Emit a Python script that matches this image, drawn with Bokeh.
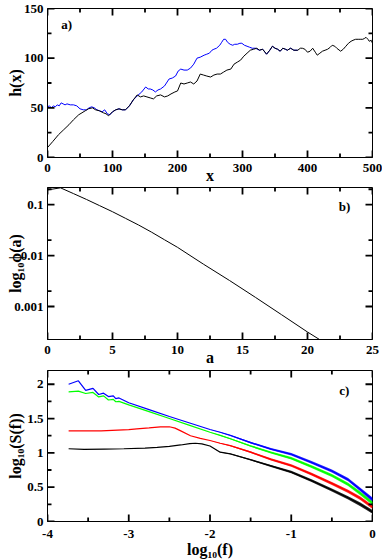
import math
from bokeh.plotting import figure
from bokeh.layouts import column
from bokeh.models import FixedTicker, Label, Range1d
from bokeh.embed import file_html
from bokeh.resources import INLINE

FONT = "'Liberation Serif', 'Times New Roman', serif"

# ---------------- panel a) : h(x) ----------------
a_black_x = [0, 8, 17, 25, 33, 40, 48, 58, 63, 69, 74, 80, 86, 90, 94, 100, 105, 110, 115, 120,
             126, 132, 138, 143, 148, 153, 158, 163, 168, 174, 180, 185, 190, 196, 200, 205, 210,
             215, 220, 225, 230, 235, 240, 245, 251, 256, 261, 266, 271, 276, 282, 287, 292, 297,
             302, 307, 312, 317, 322, 326, 331, 337, 342, 346, 350, 354, 358, 362, 366, 369, 374,
             379, 385, 389, 392, 396, 400, 404, 408, 412, 415, 419, 423, 427, 431, 435, 438, 442,
             445, 451, 455, 459, 463, 467, 470, 474, 478, 482, 485, 488, 490, 493, 495, 498, 500]
a_black_h = [10, 16, 23, 28, 33, 38, 43, 47, 49, 50, 48, 47, 45, 44, 42, 46, 48, 49, 48, 48,
             52, 58, 63, 61, 62, 61, 60, 59, 62, 63, 61, 62, 64, 66, 67, 75, 74,
             75, 76, 74, 77, 84, 83, 82, 81, 83, 84, 84, 86, 88, 89, 94, 96, 98,
             102, 105, 108, 109, 110, 108, 109, 104, 108, 112, 110, 109, 107, 110, 109, 108, 110,
             108, 108, 110, 110, 109, 106, 107, 110, 106, 103, 105, 107, 108, 109, 111, 113, 112,
             110, 107, 109, 112, 115, 117, 118, 119, 119, 119, 119, 120, 121, 119, 117, 118, 115]
a_blue_x = [0, 3, 6, 9, 12, 15, 18, 21, 24, 27, 30, 35, 40, 45, 50, 55, 60, 64, 68, 72, 76, 80,
            84, 88, 92, 96, 100, 105, 110, 115, 120, 126, 132, 138, 145, 151, 155, 158, 162, 166,
            170, 174, 180, 187, 192, 197, 201, 205, 210, 215, 220, 225, 230, 235, 241, 245, 249,
            253, 256, 260, 265, 268, 271, 274, 277, 281, 285, 288, 292, 296, 299, 303, 307, 311,
            315, 320, 326, 331, 337, 342, 346, 350, 354, 358, 362, 366, 369, 374, 379, 385]
a_blue_h = [51, 52, 50, 52, 51, 53, 52, 55, 54, 53, 54, 53, 53, 52, 49, 48, 48, 50, 51, 50, 48, 47,
            46, 48, 44, 43, 46, 48, 49, 48, 48, 52, 58, 62, 66, 71, 69, 69, 68, 66,
            68, 69, 72, 79, 80, 82, 87, 89, 88, 88, 90, 94, 100, 101, 103, 104, 105,
            108, 109, 110, 113, 116, 119, 119, 116, 114, 113, 114, 114, 115, 115, 113, 112, 111,
            110, 110, 108, 109, 104, 108, 112, 110, 109, 107, 110, 109, 108, 110, 108, 108]
a_xticks = [0, 100, 200, 300, 400, 500]
a_xtick_labels = ["0", "100", "200", "300", "400", "500"]
a_xminor = [50, 150, 250, 350, 450]
a_yticks = [0, 50, 100, 150]
a_ytick_labels = ["0", "50", "100", "150"]
a_yminor = [25, 75, 125]

# ---------------- panel b) : phi(a) ----------------
b_a = [0, 1, 2, 3, 4, 5, 6, 7, 8, 9, 10, 12, 14, 16, 18, 20, 21]
b_phi = [0.194, 0.213, 0.164, 0.126, 0.0955, 0.0724, 0.0537, 0.0398, 0.0288, 0.0204, 0.0145,
         0.00676, 0.00324, 0.00151, 0.000692, 0.000316, 0.000219]
b_xticks = [0, 5, 10, 15, 20, 25]
b_xtick_labels = ["0", "5", "10", "15", "20", "25"]
b_xminor = [2.5, 7.5, 12.5, 17.5, 22.5]
b_yticks = [0.001, 0.01, 0.1]
b_ytick_labels = ["0.001", "0.01", "0.1"]
b_yminor = [0.002, 0.02, 0.2]

# ---------------- panel c) : log10 S(f) ----------------
c_grid = [-2.0, -1.875, -1.75, -1.5, -1.25, -1.0, -0.75, -0.5, -0.3, -0.15, 0.0]
c_noise_hw = [0.0, 0.004, 0.007, 0.012, 0.015, 0.018, 0.02, 0.022, 0.024, 0.026, 0.028]

c_blue_lf = [-3.74, -3.62, -3.53, -3.44, -3.37, -3.31, -3.25, -3.19, -3.16, -3.12, -3.0, -2.75, -2.5, -2.25]
c_blue_S = [2.00, 2.05, 1.91, 1.94, 1.85, 1.87, 1.82, 1.83, 1.79, 1.80, 1.73, 1.63, 1.53, 1.435]
c_blue_tail = [1.34, 1.30, 1.255, 1.15, 1.055, 0.98, 0.86, 0.735, 0.61, 0.465, 0.32]

c_green_lf = [-3.74, -3.62, -3.53, -3.44, -3.37, -3.31, -3.25, -3.19, -3.16, -3.12, -3.0, -2.75, -2.5, -2.25]
c_green_S = [1.89, 1.90, 1.865, 1.88, 1.815, 1.83, 1.77, 1.78, 1.745, 1.75, 1.70, 1.60, 1.50, 1.40]
c_green_tail = [1.30, 1.255, 1.205, 1.10, 1.005, 0.92, 0.80, 0.67, 0.54, 0.41, 0.27]

c_red_lf = [-3.74, -3.34, -3.0, -2.9, -2.75, -2.61, -2.5, -2.43, -2.36, -2.24, -2.12]
c_red_S = [1.32, 1.32, 1.34, 1.35, 1.365, 1.38, 1.38, 1.36, 1.32, 1.25, 1.21]
c_red_tail = [1.18, 1.14, 1.105, 1.01, 0.905, 0.815, 0.69, 0.555, 0.44, 0.34, 0.21]

c_black_lf = [-3.74, -3.55, -3.3, -3.06, -2.8, -2.65, -2.5, -2.36, -2.25, -2.18, -2.1]
c_black_S = [1.06, 1.05, 1.055, 1.06, 1.07, 1.08, 1.095, 1.115, 1.135, 1.14, 1.13]
c_black_tail = [1.10, 1.01, 0.985, 0.90, 0.81, 0.72, 0.595, 0.46, 0.345, 0.25, 0.14]

c_xticks = [-4, -3, -2, -1, 0]
c_xtick_labels = ["-4", "-3", "-2", "-1", "0"]
c_xminor = [-3.5, -2.5, -1.5, -0.5]
c_yticks = [0, 0.5, 1, 1.5, 2]
c_ytick_labels = ["0", "0.5", "1", "1.5", "2"]
c_yminor = [0.25, 0.75, 1.25, 1.75]

W = 382
LEFT = 47
RIGHT = 10
MAJOR_LEN = 7
MINOR_LEN = 4
TICK_W = 1.8


def style_axis(ax, ticks, labels, axis_label, label_standoff, tick_standoff):
    ax.ticker = FixedTicker(ticks=ticks)
    ax.axis_line_color = "black"
    ax.axis_line_width = 1
    ax.major_tick_in = 0
    ax.major_tick_out = 0
    ax.minor_tick_in = 0
    ax.minor_tick_out = 0
    ax.major_tick_line_color = None
    ax.minor_tick_line_color = None
    ax.major_label_overrides = {t: s for t, s in zip(ticks, labels)}
    ax.major_label_text_font = FONT
    ax.major_label_text_font_size = "13px"
    ax.major_label_text_font_style = "bold"
    ax.major_label_text_color = "black"
    ax.major_label_standoff = tick_standoff
    ax.axis_label = axis_label
    ax.axis_label_text_font = FONT
    ax.axis_label_text_font_size = "16px"
    ax.axis_label_text_font_style = "bold"
    ax.axis_label_text_color = "black"
    ax.axis_label_standoff = label_standoff


def inward_ticks(p, xr, yr, fw, fh, xt, xm, yt, ym, y_log=False):
    """Tick marks pointing into the frame on all four sides (xmgrace style)."""
    x0, x1 = xr
    y0, y1 = yr
    for ticks, L in ((xt, MAJOR_LEN), (xm, MINOR_LEN)):
        if y_log:
            f = 10 ** (L * (math.log10(y1) - math.log10(y0)) / fh)
            bot_end, top_end = y0 * f, y1 / f
        else:
            d = L * (y1 - y0) / fh
            bot_end, top_end = y0 + d, y1 - d
        xs = [float(t) for t in ticks]
        n = len(xs)
        p.segment(x0=xs, y0=[y0] * n, x1=list(xs), y1=[bot_end] * n,
                  line_color="black", line_width=TICK_W)
        p.segment(x0=xs, y0=[y1] * n, x1=list(xs), y1=[top_end] * n,
                  line_color="black", line_width=TICK_W)
    for ticks, L in ((yt, MAJOR_LEN), (ym, MINOR_LEN)):
        d = L * (x1 - x0) / fw
        ys = [float(t) for t in ticks]
        n = len(ys)
        p.segment(x0=[x0] * n, y0=ys, x1=[x0 + d] * n, y1=list(ys),
                  line_color="black", line_width=TICK_W)
        p.segment(x0=[x1] * n, y0=ys, x1=[x1 - d] * n, y1=list(ys),
                  line_color="black", line_width=TICK_W)


def make_panel(height, top, bottom, xr, yr, y_log=False):
    p = figure(width=W, height=height, x_range=Range1d(*xr), y_range=Range1d(*yr),
               y_axis_type="log" if y_log else "linear",
               output_backend="svg", toolbar_location=None,
               min_border_left=LEFT, min_border_right=RIGHT,
               min_border_top=top, min_border_bottom=bottom)
    p.grid.visible = False
    p.outline_line_color = "black"
    p.outline_line_width = 1
    p.background_fill_color = "white"
    p.border_fill_color = "white"
    return p


def panel_label(p, x, y, text):
    p.add_layout(Label(x=x, y=y, text=text, text_font=FONT, text_font_size="13px",
                       text_font_style="bold", text_color="black", text_baseline="middle",
                       text_align="left"))


FW = W - LEFT - RIGHT

# ---- panel a
a_xr, a_yr = (0, 500), (0, 150)
pa = make_panel(186, 8, 29, a_xr, a_yr)
pa.line(a_blue_x, a_blue_h, line_color="#0000ff", line_width=1)
pa.line(a_black_x, a_black_h, line_color="black", line_width=1)
inward_ticks(pa, a_xr, a_yr, FW, 186 - 8 - 29, a_xticks, a_xminor, a_yticks, a_yminor)
style_axis(pa.xaxis[0], a_xticks, a_xtick_labels, "x", -8, 6)
style_axis(pa.yaxis[0], a_yticks, a_ytick_labels, "h(x)", -3, 4)
panel_label(pa, 21, 134, "a)")

# ---- panel b
b_xr, b_yr = (0, 25), (10 ** -3.647, 10 ** -0.665)
pb = make_panel(183, 1, 30, b_xr, b_yr, y_log=True)
pb.line(b_a, b_phi, line_color="black", line_width=1)
inward_ticks(pb, b_xr, b_yr, FW, 183 - 1 - 30, b_xticks, b_xminor, b_yticks, b_yminor, y_log=True)
style_axis(pb.xaxis[0], b_xticks, b_xtick_labels, "a", -8, 6)
style_axis(pb.yaxis[0], b_yticks, b_ytick_labels, "log₁₀ϕ(a)", -13, 4)
panel_label(pb, 22.4, 0.091, "b)")

# ---- panel c
c_xr, c_yr = (-4, 0), (0, 2.2)
pc = make_panel(191, 1, 38, c_xr, c_yr)
series = [
    (c_black_lf, c_black_S, c_black_tail, "black"),
    (c_red_lf, c_red_S, c_red_tail, "#ff0000"),
    (c_green_lf, c_green_S, c_green_tail, "#00ff00"),
    (c_blue_lf, c_blue_S, c_blue_tail, "#0000ff"),
]
for lf, S, tail, col in series:
    lo = [s - h for s, h in zip(tail, c_noise_hw)]
    hi = [s + h for s, h in zip(tail, c_noise_hw)]
    pc.varea(x=c_grid, y1=lo, y2=hi, fill_color=col, fill_alpha=0.85)
    pc.line(lf + c_grid, S + tail, line_color=col, line_width=1.2)
inward_ticks(pc, c_xr, c_yr, FW, 191 - 1 - 38, c_xticks, c_xminor, c_yticks, c_yminor)
style_axis(pc.xaxis[0], c_xticks, c_xtick_labels, "log₁₀(f)", 0, 8)
style_axis(pc.yaxis[0], c_yticks, c_ytick_labels, "log₁₀(S(f))", 0, 4)
panel_label(pc, -0.41, 1.91, "c)")

layout = column(pa, pb, pc, spacing=0)
open("out.html", "w").write(file_html(layout, INLINE))
